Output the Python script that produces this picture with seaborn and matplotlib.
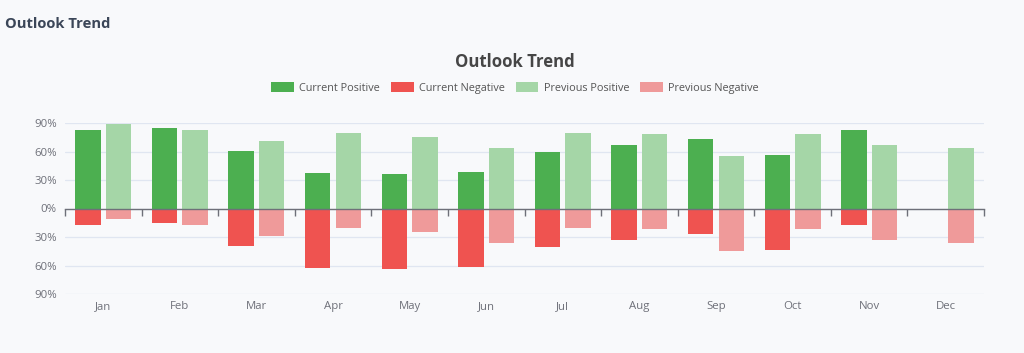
import numpy as np
import pandas as pd
import matplotlib
matplotlib.use("Agg")
import matplotlib.pyplot as plt
from matplotlib.patches import Patch
import seaborn as sns

months = ["Jan", "Feb", "Mar", "Apr", "May", "Jun", "Jul", "Aug", "Sep", "Oct", "Nov", "Dec"]
current_positive = [83, 85, 61, 37, 36, 38, 59, 67, 73, 56, 83, 0]
current_negative = [-17, -15, -39, -63, -64, -62, -41, -33, -27, -44, -17, 0]
previous_positive = [89, 83, 71, 79, 75, 64, 80, 78, 55, 78, 67, 64]
previous_negative = [-11, -17, -29, -21, -25, -36, -20, -22, -45, -22, -33, -36]
y_ticks = [-90, -60, -30, 0, 30, 60, 90]
y_tick_labels = ["90%", "60%", "30%", "0%", "30%", "60%", "90%"]
series_names = ["Current Positive", "Current Negative", "Previous Positive", "Previous Negative"]
colors = ["#4caf50", "#ef5350", "#a5d6a7", "#ef9a9a"]

bg = "#f8f9fb"
sns.set_theme(style="white")
plt.rcParams["font.family"] = ["Open Sans", "DejaVu Sans"]

pos_df = pd.DataFrame({
    "month": months * 2,
    "period": ["Current"] * 12 + ["Previous"] * 12,
    "value": current_positive + previous_positive,
})
neg_df = pd.DataFrame({
    "month": months * 2,
    "period": ["Current"] * 12 + ["Previous"] * 12,
    "value": current_negative + previous_negative,
})

fig = plt.figure(figsize=(10.24, 3.53), dpi=100, facecolor=bg)
ax = fig.add_axes([65 / 1024, 1 - 294 / 353, (984 - 65) / 1024, (294 - 123) / 353])
ax.set_facecolor(bg)

sns.barplot(data=pos_df, x="month", y="value", hue="period", hue_order=["Current", "Previous"],
            palette=[colors[0], colors[2]], order=months, dodge=True, width=0.8, gap=0.17,
            linewidth=0, legend=False, ax=ax, errorbar=None, saturation=1)
sns.barplot(data=neg_df, x="month", y="value", hue="period", hue_order=["Current", "Previous"],
            palette=[colors[1], colors[3]], order=months, dodge=True, width=0.8, gap=0.17,
            linewidth=0, legend=False, ax=ax, errorbar=None, saturation=1)

ax.set_xlim(-0.5, 11.5)
ax.set_ylim(-90, 90)
ax.set_yticks(y_ticks)
ax.set_yticklabels(y_tick_labels)
ax.set_xlabel("")
ax.set_ylabel("")
for s in ax.spines.values():
    s.set_visible(False)
ax.grid(axis="y", color="#e0e6f1", linewidth=0.9)
ax.set_axisbelow(True)
ax.tick_params(axis="y", length=0, pad=6, labelsize=8.2, labelcolor="#6e7079")
ax.tick_params(axis="x", length=0, pad=5, labelsize=8.2, labelcolor="#6e7079")

# zero axis line with boundary ticks
ax2 = ax.twiny()
ax2.set_xlim(-0.5, 11.5)
for name, s in ax2.spines.items():
    s.set_visible(name == "bottom")
ax2.spines["bottom"].set_position(("data", 0))
ax2.spines["bottom"].set_color("#6e7079")
ax2.spines["bottom"].set_linewidth(1.0)
ax2.xaxis.set_ticks_position("bottom")
ax2.set_xticks(np.arange(-0.5, 12, 1))
ax2.tick_params(axis="x", length=5, width=1.0, color="#6e7079", direction="out", labelbottom=False, labeltop=False)
ax2.patch.set_visible(False)

fig.text(5 / 1024, 1 - 24 / 353, "Outlook Trend", fontsize=10.6, fontweight="bold",
         color="#3b4658", ha="left", va="center")
fig.text(515 / 1024, 1 - 62 / 353, "Outlook Trend", fontsize=12.1, fontweight="bold",
         color="#464646", ha="center", va="center")

handles = [Patch(facecolor=c, edgecolor="none", label=n) for c, n in zip(colors, series_names)]
fig.legend(handles=handles, loc="center", bbox_to_anchor=(515 / 1024, 1 - 88 / 353), ncol=4,
           frameon=False, fontsize=7.8, labelcolor="#555555", handlelength=2.1, handleheight=1.0,
           handletextpad=0.5, columnspacing=1.0)

fig.savefig("out.png", dpi=100, facecolor=bg)
